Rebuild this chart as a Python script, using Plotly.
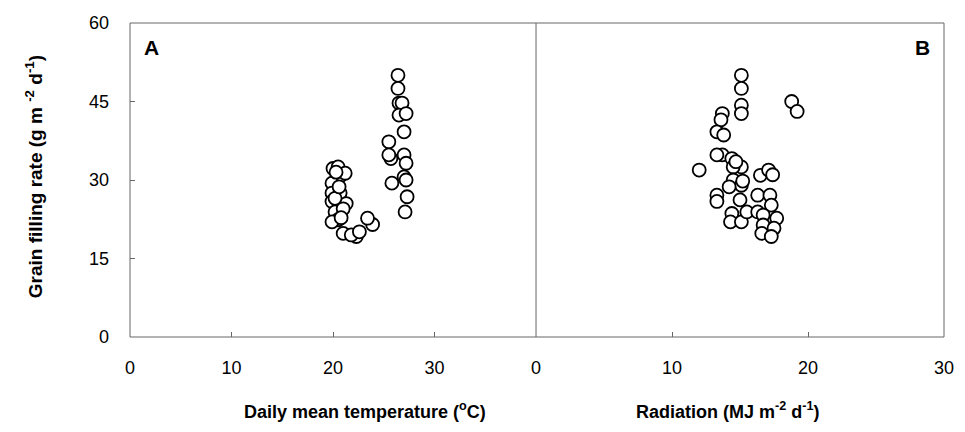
import plotly.graph_objects as go

# Panel A: daily mean temperature (oC) vs grain filling rate
temp_A = [26.4, 26.4, 26.5, 26.8, 26.5, 27.2, 27.0, 25.5, 25.7, 25.5, 27.0, 27.2, 27.0, 27.2,
          25.8, 27.3, 27.1, 23.9, 23.4, 20.0, 20.5, 20.8, 21.2, 19.9, 19.9, 20.7, 19.9, 21.3,
          20.2, 20.5, 19.9, 21.0, 22.3, 21.8, 22.6, 20.2, 20.6, 21.0, 20.3, 20.8]
rate_A = [50.0, 47.5, 44.7, 44.7, 42.4, 42.7, 39.2, 37.3, 34.1, 34.8, 34.8, 33.2, 30.6, 30.0,
          29.4, 26.8, 23.9, 21.5, 22.7, 32.2, 32.5, 30.9, 31.3, 29.4, 27.5, 27.5, 25.9, 25.5,
          23.9, 22.4, 22.0, 19.8, 19.2, 19.5, 20.1, 26.5, 28.7, 24.5, 31.5, 22.8]

# Panel B: radiation (MJ m-2 d-1) vs grain filling rate
rad_B = [15.1, 15.1, 15.1, 15.1, 18.8, 19.2, 13.7, 13.6, 13.3, 13.8, 13.7, 14.4, 15.1, 14.5,
         16.5, 17.1, 17.4, 14.5, 15.1, 14.2, 13.3, 15.0, 16.3, 17.2, 17.3, 14.4, 14.3, 15.1,
         15.5, 16.3, 16.7, 17.7, 16.7, 17.5, 16.6, 17.3, 12.0, 13.3, 13.3, 14.7, 15.2]
rate_B = [50.0, 47.5, 44.3, 42.7, 45.0, 43.1, 42.7, 41.5, 39.2, 38.6, 34.8, 34.1, 32.5, 32.5,
          30.9, 31.9, 31.0, 30.0, 29.0, 28.7, 27.1, 26.2, 27.1, 27.1, 25.2, 23.6, 22.0, 22.0,
          23.9, 23.9, 23.3, 22.7, 21.4, 20.8, 19.8, 19.2, 31.9, 34.8, 25.9, 33.5, 29.8]

y_ticks = [0, 15, 30, 45, 60]
x_ticks_A = [0, 10, 20, 30]
x_ticks_B = [0, 10, 20, 30]

FONT = "Liberation Sans, Arial, sans-serif"
marker = dict(symbol="circle", size=13, color="white", line=dict(color="black", width=1.8))

fig = go.Figure()
fig.add_trace(go.Scatter(x=temp_A, y=rate_A, mode="markers", marker=marker,
                         xaxis="x", yaxis="y", showlegend=False))
fig.add_trace(go.Scatter(x=rad_B, y=rate_B, mode="markers", marker=marker,
                         xaxis="x2", yaxis="y", showlegend=False))

split = 0.4988
axis_common = dict(showgrid=False, zeroline=False, ticks="inside", ticklen=5, tickcolor="#666",
                   tickfont=dict(family=FONT, size=18, color="black"), showline=False)

L, T, PW, PH = 130, 23, 824, 314

fig.update_layout(
    width=965, height=432,
    margin=dict(l=L, r=11, t=T, b=95),
    paper_bgcolor="white", plot_bgcolor="white",
    xaxis=dict(domain=[0, split], range=[0, 40], tickvals=x_ticks_A, anchor="y",
               ticklabelstandoff=18, **axis_common),
    xaxis2=dict(domain=[split, 1], range=[0, 30], tickvals=x_ticks_B, anchor="y",
                ticklabelstandoff=18, **axis_common),
    yaxis=dict(domain=[0, 1], range=[0, 60], tickvals=y_ticks, anchor="x",
               ticklabelstandoff=20, **axis_common),
    shapes=[
        dict(type="rect", xref="paper", yref="paper", x0=0, x1=1, y0=0, y1=1,
             line=dict(color="#666", width=1)),
        dict(type="line", xref="paper", yref="paper", x0=split, x1=split, y0=0, y1=1,
             line=dict(color="#666", width=1)),
    ],
    annotations=[
        dict(text="<b>A</b>", xref="paper", yref="paper", x=(152 - L) / PW, y=(337 - 48) / PH,
             xanchor="center", yanchor="middle",
             showarrow=False, font=dict(family=FONT, size=21, color="black")),
        dict(text="<b>B</b>", xref="paper", yref="paper", x=(932 - L) / PW, y=(337 - 48) / PH,
             xanchor="center", yanchor="middle",
             showarrow=False, font=dict(family=FONT, size=21, color="black")),
        dict(text="<b>Daily mean temperature (<sup>o</sup>C)</b>", xref="paper", yref="paper",
             x=(368 - L) / PW, y=(337 - 410) / PH, xanchor="center", yanchor="middle",
             showarrow=False, font=dict(family=FONT, size=18, color="black")),
        dict(text="<b>Radiation (MJ m<sup>-2</sup> d<sup>-1</sup>)</b>", xref="paper", yref="paper",
             x=(735 - L) / PW, y=(337 - 410) / PH, xanchor="center", yanchor="middle",
             showarrow=False, font=dict(family=FONT, size=18, color="black")),
        dict(text="<b>Grain filling rate (g m <sup>-2</sup> d<sup>-1</sup>)</b>", xref="paper",
             yref="paper", x=(33 - L) / PW, y=(337 - 177) / PH, textangle=-90,
             xanchor="center", yanchor="middle", showarrow=False,
             font=dict(family=FONT, size=19, color="black")),
    ],
)

fig.write_html("out.html")
